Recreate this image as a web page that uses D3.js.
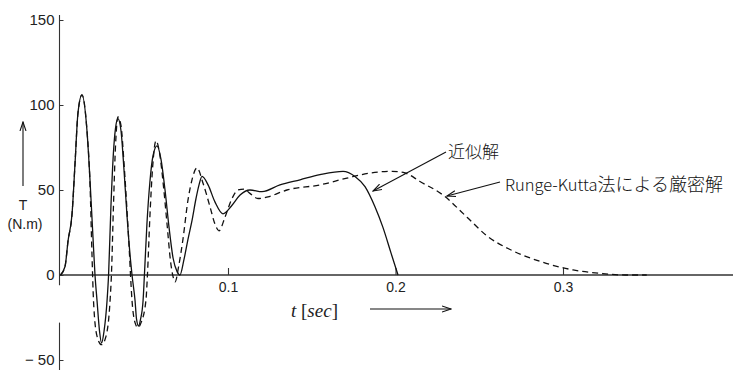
<!DOCTYPE html>
<html>
<head>
<meta charset="utf-8">
<script src="https://cdn.jsdelivr.net/npm/d3@7"></script>
<style>
	body { margin: 0; background: white; }
	svg { display: block; }
	.tick text { fill: #222; }
</style>
</head>
<body>
<svg id="chart" width="733" height="370"></svg>
<script>
// approximate solution (solid)
var tSolid = [0, .0027, .0045, .0069, .0087, .0104, .0128, .0158, .0176, .0194,
	.0206, .0218, .0233, .0245, .0260, .0278, .0287, .0301, .0316, .0328,
	.0343, .0361, .0379, .0397, .0415, .0427, .0445, .0454, .0466, .0478,
	.0493, .0501, .0516, .0534, .0552, .0576, .0600, .0624, .0648, .0672,
	.0696, .0713, .0737, .0761, .0785, .0809, .0827, .0845, .0881, .0922,
	.0970, .1024, .1072, .1131, .1203, .1310, .1430, .1549, .1687, .1758,
	.1818, .1878, .1925, .1973, .2015];
var TSolid = [0, 5, 20, 36, 66, 95, 106, 85, 56, 22,
	0, -15, -33, -40, -33, -15, 0, 40, 72, 86,
	92, 85, 62, 35, 12, 0, -15, -26, -30, -26,
	-15, 0, 30, 55, 70, 76, 68, 50, 28, 10,
	2, 0, 9, 21, 32, 45, 53, 58, 53, 43,
	36, 41, 47, 50, 49, 53, 56, 59, 61, 58,
	52, 40, 28, 13, 0];

// Runge-Kutta solution (dashed)
var tExact = [0, .0027, .0045, .0069, .0087, .0104, .0128, .0158, .0176, .0188,
	.0197, .0218, .0245, .0272, .0296, .0304, .0316, .0328, .0343, .0361,
	.0379, .0397, .0412, .0418, .0427, .0445, .0463, .0481, .0510, .0519,
	.0534, .0549, .0570, .0591, .0615, .0636, .0657, .0672, .0684, .0707,
	.0731, .0761, .0785, .0815, .0851, .0893, .0922, .0946, .0982, .1024,
	.1060, .1096, .1131, .1179, .1239, .1352, .1549, .1710, .1849, .1979,
	.2057, .2146, .2284, .2427, .2546, .2684, .2863, .3060, .3221, .3370, .3500];
var TExact = [0, 5, 20, 36, 66, 95, 106, 85, 54, 12,
	-15, -36, -41, -36, -15, 0, 40, 75, 93, 88,
	66, 38, 12, 0, -15, -28, -31, -28, -15, 0,
	35, 62, 79, 72, 52, 30, 8, -1, -4, 6,
	21, 44, 56, 63, 54, 40, 30, 26, 34, 45,
	50, 50.5, 48, 45, 46, 50, 53, 57, 60, 61,
	60, 55, 47, 34, 23, 15, 8, 3, 1, 0, 0];

var xTicks = [0.1, 0.2, 0.3];
var yTicks = [-50, 0, 50, 100, 150];

var svg = d3.select("#chart");

var x = d3.scaleLinear().domain([0, 0.4]).range([60.5, 730.5]);
var y = d3.scaleLinear().domain([-50, 150]).range([360, 20]);

var defs = svg.append("defs");
defs.append("marker")
	.attr("id", "arr")
	.attr("viewBox", "0 -4 10 8")
	.attr("refX", 9).attr("refY", 0)
	.attr("markerWidth", 10).attr("markerHeight", 8)
	.attr("markerUnits", "userSpaceOnUse")
	.attr("orient", "auto")
	.append("path")
	.attr("d", "M0,-3L9,0L0,3")
	.attr("fill", "none")
	.attr("stroke", "#111")
	.attr("stroke-width", 1.1);

// axes
var x0 = x(0), y0 = y(0);
svg.append("line")
	.attr("x1", x0).attr("x2", 733)
	.attr("y1", y0).attr("y2", y0)
	.attr("stroke", "#333").attr("stroke-width", 1.3);
svg.append("line")
	.attr("x1", x0 - 1).attr("x2", x0 - 1)
	.attr("y1", 15).attr("y2", y(-6))
	.attr("stroke", "#333").attr("stroke-width", 1.1);
svg.append("line")
	.attr("x1", x0 - 1).attr("x2", x0 - 1)
	.attr("y1", y(-28)).attr("y2", 370)
	.attr("stroke", "#333").attr("stroke-width", 1.1);

var yAxis = d3.axisLeft(y)
	.tickValues(yTicks)
	.tickSize(-4)
	.tickPadding(5)
	.tickFormat(function(d) { return d < 0 ? "\u2212 " + (-d) : d; });
var gy = svg.append("g")
	.attr("transform", "translate(" + (x0 - 1) + ",0)")
	.call(yAxis);
gy.select(".domain").remove();
gy.selectAll("text")
	.style("font-family", "Liberation Sans")
	.style("font-size", "15px");
gy.selectAll(".tick line").attr("stroke", "#333");

var xAxis = d3.axisBottom(x)
	.tickValues(xTicks)
	.tickSize(-7)
	.tickPadding(7)
	.tickFormat(d3.format(".1f"));
var gx = svg.append("g")
	.attr("transform", "translate(0," + y0 + ")")
	.call(xAxis);
gx.select(".domain").remove();
gx.selectAll("text")
	.style("font-family", "Liberation Sans")
	.style("font-size", "14px");
gx.selectAll(".tick line").attr("stroke", "#333").attr("stroke-width", 1.1);

// curves
var line = d3.line()
	.x(function(d) { return x(d[0]); })
	.y(function(d) { return y(d[1]); })
	.curve(d3.curveMonotoneX);

svg.append("path")
	.datum(d3.zip(tExact, TExact))
	.attr("d", line)
	.attr("fill", "none")
	.attr("stroke", "#111")
	.attr("stroke-width", 1.3)
	.attr("stroke-dasharray", "6,4");

svg.append("path")
	.datum(d3.zip(tSolid, TSolid))
	.attr("d", line)
	.attr("fill", "none")
	.attr("stroke", "#111")
	.attr("stroke-width", 1.3);

// y label
svg.append("line")
	.attr("x1", 23).attr("x2", 23)
	.attr("y1", 186).attr("y2", 122)
	.attr("stroke", "#111").attr("stroke-width", 1.1)
	.attr("marker-end", "url(#arr)");
svg.append("text")
	.attr("x", 23).attr("y", 210)
	.attr("text-anchor", "middle")
	.style("font-family", "Liberation Sans")
	.style("font-size", "14px")
	.attr("fill", "#222")
	.text("T");
svg.append("text")
	.attr("x", 25).attr("y", 229)
	.attr("text-anchor", "middle")
	.style("font-family", "Liberation Sans")
	.style("font-size", "14px")
	.attr("fill", "#222")
	.text("(N.m)");

// x label
var xl = svg.append("text")
	.attr("x", 291).attr("y", 317)
	.style("font-family", "Liberation Serif")
	.style("font-size", "19px")
	.attr("fill", "#222");
xl.append("tspan").style("font-style", "italic").text("t");
xl.append("tspan").text(" [");
xl.append("tspan").style("font-style", "italic").text("sec");
xl.append("tspan").text("]");
svg.append("line")
	.attr("x1", 370).attr("x2", 451)
	.attr("y1", 309).attr("y2", 309)
	.attr("stroke", "#111").attr("stroke-width", 1.1)
	.attr("marker-end", "url(#arr)");

// annotations
var tipSolid = [0.1866, 49.4],
	tipExact = [0.2307, 46.5];
svg.append("line")
	.attr("x1", 446).attr("y1", 152)
	.attr("x2", x(tipSolid[0])).attr("y2", y(tipSolid[1]))
	.attr("stroke", "#111").attr("stroke-width", 1.1)
	.attr("marker-end", "url(#arr)");
svg.append("text")
	.attr("x", 448).attr("y", 158)
	.style("font-family", "Noto Sans CJK JP")
	.style("font-weight", 300)
	.style("font-size", "17px")
	.attr("fill", "#111")
	.text("近似解");

svg.append("line")
	.attr("x1", 500).attr("y1", 182)
	.attr("x2", x(tipExact[0])).attr("y2", y(tipExact[1]))
	.attr("stroke", "#111").attr("stroke-width", 1.1)
	.attr("marker-end", "url(#arr)");
var rk = svg.append("text")
	.attr("x", 505).attr("y", 191)
	.style("font-family", "Noto Sans CJK JP")
	.style("font-weight", 300)
	.attr("fill", "#111");
rk.append("tspan").style("font-size", "16.5px").text("Runge-Kutta");
rk.append("tspan").style("font-size", "18px").text("法による厳密解");
</script>
</body>
</html>
